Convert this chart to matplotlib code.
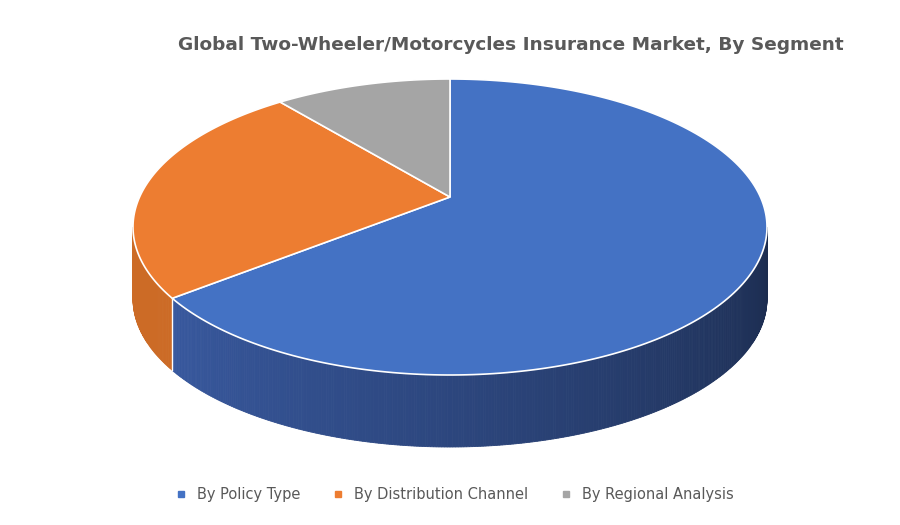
import numpy as np
import matplotlib.pyplot as plt
from matplotlib.patches import Polygon
from matplotlib.lines import Line2D

segments = ["By Policy Type", "By Distribution Channel", "By Regional Analysis"]
shares = [67.0, 24.0, 9.0]
top_colors = ["#4472c4", "#ed7d31", "#a5a5a5"]
side_colors = [(0.24, 0.38, 0.68), (0.80, 0.42, 0.15), (0.55, 0.55, 0.55)]

# ellipse centre, radii, wall depth, and perspective apex of the top face
cx, cy, rx, ry, depth = 450, 227, 317, 148, 72
apex = (450, 197)

fig = plt.figure(figsize=(9, 5.25), dpi=100)
ax = fig.add_axes([0, 0, 1, 1])
ax.set_xlim(0, 900)
ax.set_ylim(525, 0)
ax.axis("off")


def pt(t):
    r = np.radians(t)
    return cx + rx * np.cos(r), cy - ry * np.sin(r)


# slice angle ranges, clockwise from 12 o'clock
bounds = []
a = 90.0
for s in shares:
    b = a - s / 100 * 360
    bounds.append((b, a))
    a = b


def slice_at(t):
    for i, (lo, hi) in enumerate(bounds):
        for k in (-360, 0, 360):
            if lo <= t + k <= hi:
                return i
    return 0


# side walls (front half only)
ts = np.linspace(180, 360, 361)
for t1, t2 in zip(ts[:-1], ts[1:]):
    i = slice_at((t1 + t2) / 2)
    f = 1.0 - 0.55 * (t1 - 180) / 180 if i == 0 else 1.0
    col = tuple(c * f for c in side_colors[i])
    x1, y1 = pt(t1)
    x2, y2 = pt(t2)
    ax.add_patch(Polygon([(x1, y1), (x2, y2), (x2, y2 + depth), (x1, y1 + depth)],
                         closed=True, facecolor=col, edgecolor=col, lw=0.6))

# edge between blue and orange on front wall
bx, by = pt(bounds[0][0])
ax.plot([bx, bx], [by, by + depth], color="white", lw=1)

# top faces
for (lo, hi), col in zip(bounds, top_colors):
    tt = np.linspace(hi, lo, 200)
    verts = [apex] + [pt(t) for t in tt]
    ax.add_patch(Polygon(verts, closed=True, facecolor=col, edgecolor="white", lw=1.2))

fig.text(0.568, 0.915, "Global Two-Wheeler/Motorcycles Insurance Market, By Segment",
         ha="center", va="center", fontsize=13.3, fontweight="bold", color="#595959")

handles = [Line2D([], [], marker="s", ls="", color=c, markersize=5) for c in top_colors]
fig.legend(handles, segments, loc="center", bbox_to_anchor=(0.5, 0.058), ncol=3,
           frameon=False, fontsize=10.5, labelcolor="#595959", handletextpad=0.1,
           columnspacing=1.6)

fig.savefig("out.png", dpi=100)
